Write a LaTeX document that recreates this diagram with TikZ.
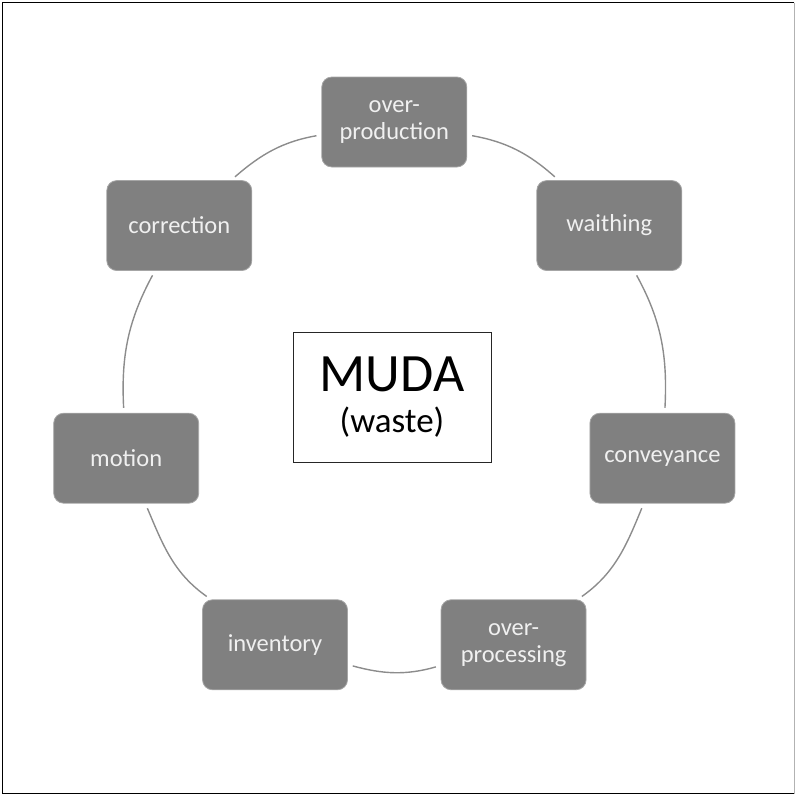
\documentclass[tikz,border=0pt]{standalone}
\usepackage{fontspec}
\setmainfont{Carlito}
\usepackage{tikz}

\begin{document}
\begin{tikzpicture}[x=1pt,y=1pt,
  waste/.style={rectangle, rounded corners=10pt, draw=gray!70, line width=0.8pt, fill=gray,
    text=white!94!black, minimum width=145pt, minimum height=90pt, align=center,
    font=\fontsize{24.5}{27}\selectfont},
  ring/.style={draw=gray!90, line width=1.4pt, shorten >=5pt, shorten <=5pt}]
\useasboundingbox (0,0) rectangle (795,-795);
\draw[line width=1.5pt] (794,-2.5) -- (2.5,-2.5) -- (2.5,-793.5) -- (794,-793.5);
\draw[gray!60, line width=1pt] (794,-2.5) -- (794,-793.5);

\coordinate (o) at (394.3,-397);
\node [draw=black!85, line width=1pt, minimum width=198pt, minimum height=130pt, align=center,
  font=\fontsize{35}{41}\selectfont] (m) at (392,-397) {{\fontsize{54}{50}\selectfont MUDA}\\(waste)};

% the seven wastes round the ring
\foreach \ang/\nm/\txt in {90/a/{over-\\production}, 38.57/b/waithing, -12.86/d/conveyance,
  -64.29/e/{over-\\processing}, -115.71/f/inventory, -167.14/g/motion, 141.43/h/correction}
  \node [waste] (\nm) at ([shift={(\ang:275)}]o) {\txt};

\foreach \x/\y/\ang [evaluate=\ang as \o using \ang-100, evaluate=\ang as \i using \ang+48.57]
  in {a/b/90, b/d/38.57, d/e/-12.86, e/f/-64.29, f/g/-115.71, g/h/-167.14, h/a/141.43}
  \draw [ring] (\x) to[out=\o, in=\i] (\y);
\end{tikzpicture}
\end{document}
